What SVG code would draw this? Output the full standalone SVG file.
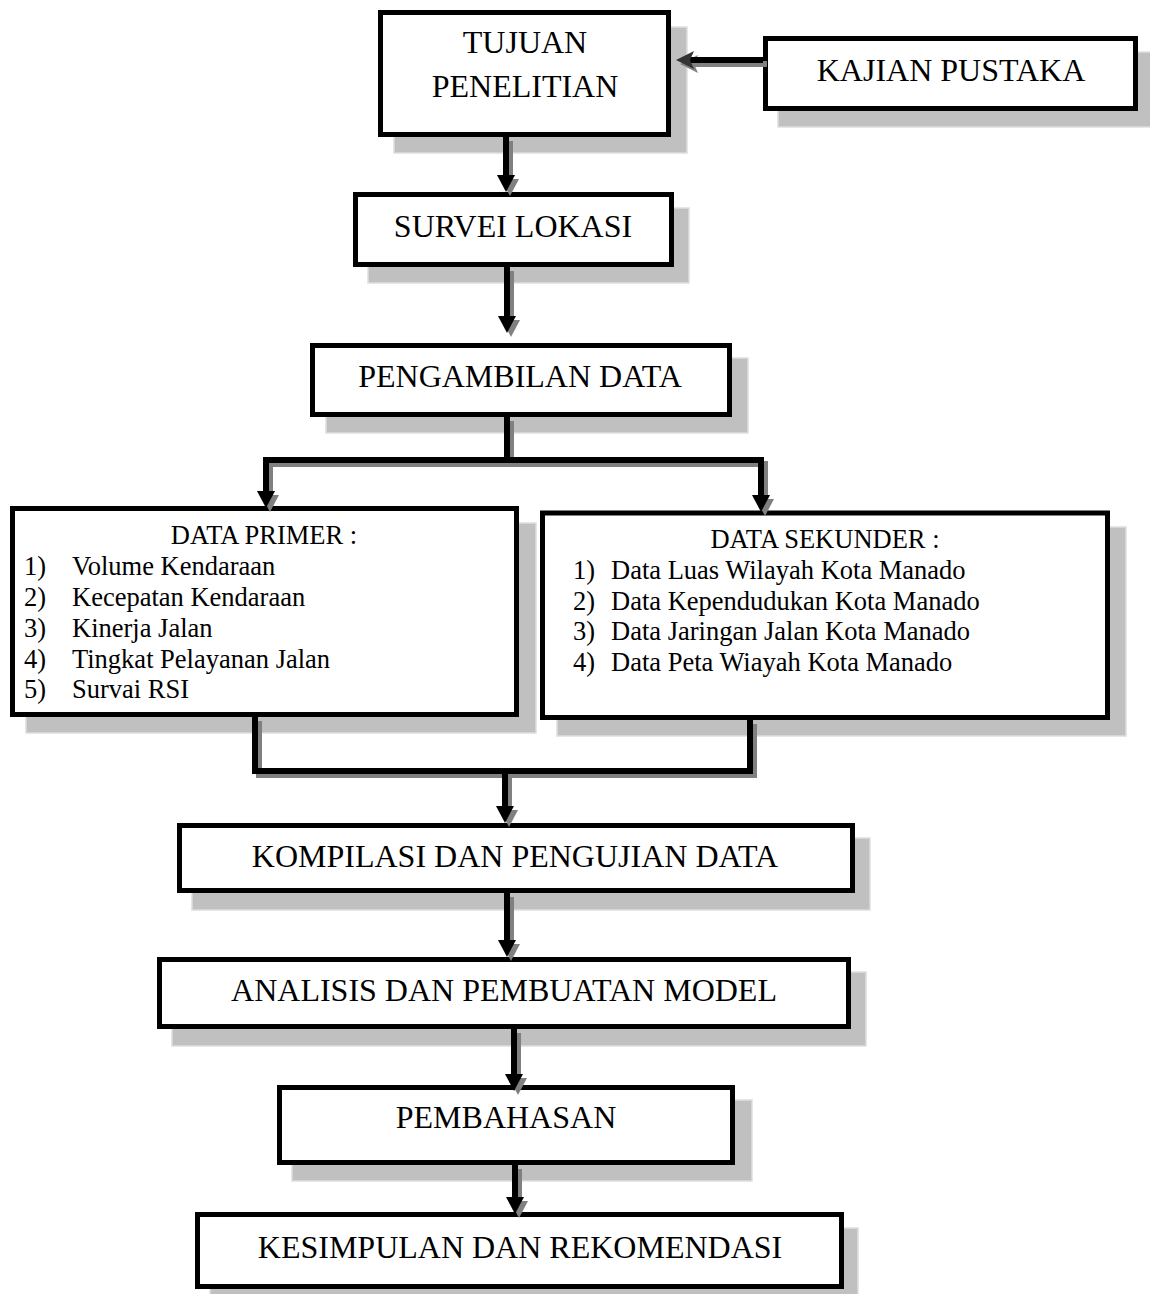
<svg xmlns="http://www.w3.org/2000/svg" width="1150" height="1294" viewBox="0 0 1150 1294">
<defs>
<style>
.sh{fill:#c0c0c0;stroke:#dedede;stroke-width:1.5}
.bx{fill:#fff;stroke:#000;stroke-width:5}
.t{font-family:"Liberation Serif","Times New Roman",serif;font-size:32px;fill:#000}
.ts{font-family:"Liberation Serif","Times New Roman",serif;font-size:26.5px;fill:#000}
.c{fill:none;stroke:#000;stroke-width:6;stroke-linejoin:miter}
.cs{fill:none;stroke:#808080;stroke-width:6;stroke-linejoin:miter}
</style>
<marker id="ah" markerUnits="userSpaceOnUse" markerWidth="18" markerHeight="18" refX="0" refY="9" orient="auto" overflow="visible">
<path d="M0,0 L17,9 L0,18 Z" fill="#000"/>
</marker>
<marker id="ahs" markerUnits="userSpaceOnUse" markerWidth="18" markerHeight="18" refX="0" refY="9" orient="auto" overflow="visible">
<path d="M0,0 L17,9 L0,18 Z" fill="#808080"/>
</marker>
<marker id="st" markerUnits="userSpaceOnUse" markerWidth="20" markerHeight="20" refX="4" refY="9" orient="auto" overflow="visible">
<path d="M0,0 L18,9 L0,18 L4,9 Z" fill="#333"/>
</marker>
<marker id="sts" markerUnits="userSpaceOnUse" markerWidth="20" markerHeight="20" refX="4" refY="9" orient="auto" overflow="visible">
<path d="M0,0 L18,9 L0,18 L4,9 Z" fill="#808080"/>
</marker>
</defs>
<rect width="1150" height="1294" fill="#fff"/>

<g id="shadows">
<rect class="sh" x="394" y="27" width="293" height="126"/>
<rect class="sh" x="778" y="52" width="375" height="75"/>
<rect class="sh" x="368" y="208" width="321" height="75"/>
<rect class="sh" x="326" y="358" width="422" height="75"/>
<rect class="sh" x="26" y="523" width="510" height="210"/>
<rect class="sh" x="557" y="527" width="569" height="209"/>
<rect class="sh" x="192" y="838" width="678" height="72"/>
<rect class="sh" x="172" y="972" width="694" height="74"/>
<rect class="sh" x="292" y="1100" width="460" height="81"/>
<rect class="sh" x="210" y="1228" width="648" height="72"/>
</g>

<g id="n-tujuan">
<rect class="bx" x="380.5" y="12.5" width="288" height="122"/>
<text class="t" x="525" y="53" text-anchor="middle">TUJUAN</text>
<text class="t" x="525" y="97" text-anchor="middle">PENELITIAN</text>
</g>
<g id="n-kajian">
<rect class="bx" x="765.5" y="38.5" width="370" height="70"/>
<text class="t" x="951" y="81" text-anchor="middle">KAJIAN PUSTAKA</text>
</g>
<g id="n-survei">
<rect class="bx" x="355.5" y="194.5" width="316" height="70"/>
<text class="t" x="513" y="237" text-anchor="middle">SURVEI LOKASI</text>
</g>
<g id="n-pengambilan">
<rect class="bx" x="312.5" y="345.5" width="417" height="69"/>
<text class="t" x="520" y="387" text-anchor="middle">PENGAMBILAN DATA</text>
</g>
<g id="n-primer">
<rect class="bx" x="12.5" y="508.5" width="504" height="206"/>
<text class="ts" x="264" y="544" text-anchor="middle">DATA PRIMER :</text>
<text class="ts" x="24" y="575">1)</text><text class="ts" x="72" y="575">Volume Kendaraan</text>
<text class="ts" x="24" y="606">2)</text><text class="ts" x="72" y="606">Kecepatan Kendaraan</text>
<text class="ts" x="24" y="637">3)</text><text class="ts" x="72" y="637">Kinerja Jalan</text>
<text class="ts" x="24" y="668">4)</text><text class="ts" x="72" y="668">Tingkat Pelayanan Jalan</text>
<text class="ts" x="24" y="698">5)</text><text class="ts" x="72" y="698">Survai RSI</text>
</g>
<g id="n-sekunder">
<rect class="bx" x="542.5" y="513" width="565" height="204.5"/>
<text class="ts" x="825" y="548" text-anchor="middle">DATA SEKUNDER :</text>
<text class="ts" x="573" y="579">1)</text><text class="ts" x="611" y="579">Data Luas Wilayah Kota Manado</text>
<text class="ts" x="573" y="610">2)</text><text class="ts" x="611" y="610">Data Kependudukan Kota Manado</text>
<text class="ts" x="573" y="640">3)</text><text class="ts" x="611" y="640">Data Jaringan Jalan Kota Manado</text>
<text class="ts" x="573" y="671">4)</text><text class="ts" x="611" y="671">Data Peta Wiayah Kota Manado</text>
</g>
<g id="n-kompilasi">
<rect class="bx" x="179.5" y="825.5" width="673" height="65"/>
<text class="t" x="515" y="867" text-anchor="middle">KOMPILASI DAN PENGUJIAN DATA</text>
</g>
<g id="n-analisis">
<rect class="bx" x="159.5" y="959.5" width="689" height="67"/>
<text class="t" x="504" y="1001" text-anchor="middle">ANALISIS DAN PEMBUATAN MODEL</text>
</g>
<g id="n-pembahasan">
<rect class="bx" x="279.5" y="1087.5" width="453" height="75"/>
<text class="t" x="506" y="1128" text-anchor="middle">PEMBAHASAN</text>
</g>
<g id="n-kesimpulan">
<rect class="bx" x="197.5" y="1214.5" width="644" height="72"/>
<text class="t" x="520" y="1258" text-anchor="middle">KESIMPULAN DAN REKOMENDASI</text>
</g>

<g id="connectors">
<g transform="translate(4,4)">
<path class="cs" d="M763,60 H690" marker-end="url(#sts)"/>
<path class="cs" d="M506,137 V175" marker-end="url(#ahs)"/>
<path class="cs" d="M507,267 V316" marker-end="url(#ahs)"/>
<path class="cs" d="M507,417 V460"/>
<path class="cs" d="M266,491 V460 H761 V495"/>
<path class="cs" d="M266,480 V491" marker-end="url(#ahs)"/>
<path class="cs" d="M761,480 V495" marker-end="url(#ahs)"/>
<path class="cs" d="M255,717 V771 H750 V720"/>
<path class="cs" d="M505,771 V806" marker-end="url(#ahs)"/>
<path class="cs" d="M507,893 V940" marker-end="url(#ahs)"/>
<path class="cs" d="M514,1029 V1074" marker-end="url(#ahs)"/>
<path class="cs" d="M515,1165 V1197" marker-end="url(#ahs)"/>
</g>
<path class="c" d="M763,60 H690" marker-end="url(#st)"/>
<path class="c" d="M506,137 V175" marker-end="url(#ah)"/>
<path class="c" d="M507,267 V316" marker-end="url(#ah)"/>
<path class="c" d="M507,417 V460"/>
<path class="c" d="M266,491 V460 H761 V495"/>
<path class="c" d="M266,480 V491" marker-end="url(#ah)"/>
<path class="c" d="M761,480 V495" marker-end="url(#ah)"/>
<path class="c" d="M255,717 V771 H750 V720"/>
<path class="c" d="M505,771 V806" marker-end="url(#ah)"/>
<path class="c" d="M507,893 V940" marker-end="url(#ah)"/>
<path class="c" d="M514,1029 V1074" marker-end="url(#ah)"/>
<path class="c" d="M515,1165 V1197" marker-end="url(#ah)"/>
</g>
</svg>
